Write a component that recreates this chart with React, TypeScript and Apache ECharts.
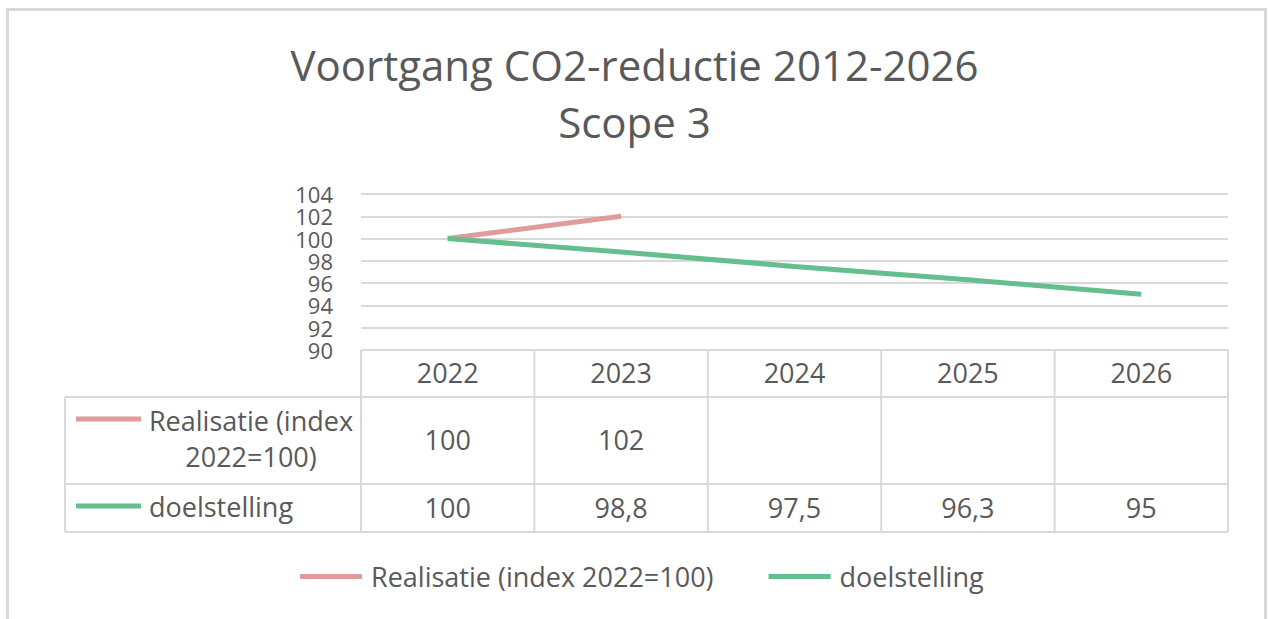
import React, { useEffect, useRef } from "react";
import * as echarts from "echarts";

const categories = ["2022", "2023", "2024", "2025", "2026"];
const realisatie: (number | null)[] = [100, 102, null, null, null];
const doelstelling: (number | null)[] = [100, 98.8, 97.5, 96.3, 95];
const seriesNames = ["Realisatie (index 2022=100)", "doelstelling"];
const rowHeaderLabels = ["Realisatie (index\n2022=100)", "doelstelling"];
const titleText = "Voortgang CO2-reductie 2012-2026\nScope 3";

const RED = "#E09B9B";
const GREEN = "#64BE8D";
const TEXT = "#595959";
const LINE = "#D9D9D9";
const FONT = "'Open Sans', sans-serif";

const fmt = (v: number | null) => (v === null ? "" : String(v).replace(".", ","));

export default function App() {
  const ref = useRef<HTMLDivElement>(null);
  useEffect(() => {
    if (!ref.current) return;
    const chart = echarts.init(ref.current, undefined, { renderer: "svg" });
    const option: any = {
      animation: false,
      backgroundColor: "#ffffff",
      textStyle: { fontFamily: FONT, color: TEXT },
      title: {
        text: titleText,
        left: "center",
        top: 36,
        padding: 0,
        textStyle: { fontFamily: FONT, fontSize: 42, fontWeight: "normal", color: TEXT, lineHeight: 57 },
      },
      legend: {
        left: 300,
        top: 563,
        padding: 0,
        itemWidth: 62,
        itemHeight: 5,
        itemGap: 55,
        icon: "rect",
        textStyle: { fontFamily: FONT, fontSize: 27, color: TEXT, padding: [0, 0, 0, 4] },
        data: seriesNames,
      },
      grid: { left: 361, right: 41, top: 194, bottom: 269 },
      xAxis: {
        type: "category",
        data: categories,
        boundaryGap: true,
        axisLabel: { show: false },
        axisLine: { show: false },
        axisTick: { show: false },
      },
      yAxis: {
        type: "value",
        min: 90,
        max: 104,
        interval: 2,
        axisLine: { show: false },
        axisTick: { show: false },
        axisLabel: {
          fontFamily: FONT,
          fontSize: 22,
          lineHeight: 22,
          color: TEXT,
          margin: 28,
          showMinLabel: true,
          showMaxLabel: true,
          hideOverlap: false,
        },
        splitLine: { lineStyle: { color: LINE, width: 2 } },
      },
      series: [
        {
          name: seriesNames[0],
          type: "line",
          data: realisatie,
          showSymbol: false,
          symbol: "none",
          color: RED,
          lineStyle: { color: RED, width: 5 },
        },
        {
          name: seriesNames[1],
          type: "line",
          data: doelstelling,
          showSymbol: false,
          symbol: "none",
          color: GREEN,
          lineStyle: { color: GREEN, width: 5 },
        },
      ],
    };
    chart.setOption(option);

    // data table built from the axis scale
    const cx = categories.map((c) => chart.convertToPixel({ xAxisIndex: 0 }, c) as number);
    const band = cx[1] - cx[0];
    const leftEdge = cx[0] - band / 2;
    const rightEdge = cx[cx.length - 1] + band / 2;
    const top = chart.convertToPixel({ yAxisIndex: 0 }, 90) as number;
    const row1 = 397;
    const row2 = 484;
    const bottom = 532;
    const headLeft = 65;
    const ls = { stroke: LINE, lineWidth: 2 };
    const els: any[] = [];
    // frame
    els.push({ type: "rect", shape: { x: 7.5, y: 9.5, width: 1258, height: 700 }, style: { fill: "none", stroke: LINE, lineWidth: 3 }, silent: true });
    // horizontal lines
    els.push({ type: "line", shape: { x1: leftEdge, y1: top, x2: rightEdge, y2: top }, style: ls });
    [row1, row2, bottom].forEach((y) =>
      els.push({ type: "line", shape: { x1: headLeft, y1: y, x2: rightEdge, y2: y }, style: ls })
    );
    // vertical lines
    els.push({ type: "line", shape: { x1: headLeft, y1: row1, x2: headLeft, y2: bottom }, style: ls });
    for (let i = 0; i <= categories.length; i++) {
      const x = leftEdge + i * band;
      els.push({ type: "line", shape: { x1: x, y1: top, x2: x, y2: bottom }, style: ls });
    }
    const txt = (x: number, y: number, s: string, align = "center") => ({
      type: "text",
      x,
      y,
      style: { text: s, fill: TEXT, font: `27px ${FONT}`, textAlign: align, textVerticalAlign: "middle", lineHeight: 36 },
    });
    categories.forEach((c, i) => els.push(txt(cx[i], (top + row1) / 2 - 1, c)));
    const rows = [realisatie, doelstelling];
    const rowY = [(row1 + row2) / 2, (row2 + bottom) / 2];
    const colors = [RED, GREEN];
    rows.forEach((r, ri) => {
      r.forEach((v, i) => els.push(txt(cx[i], rowY[ri] - 1, fmt(v))));
    });
    // row headers with legend keys
    els.push({ type: "rect", shape: { x: 76, y: 416.5, width: 65, height: 5 }, style: { fill: colors[0] } });
    els.push({ type: "rect", shape: { x: 76, y: 503.5, width: 65, height: 5 }, style: { fill: colors[1] } });
    els.push(txt(251, rowY[0] - 2, rowHeaderLabels[0]));
    els.push(txt(149, rowY[1] - 2, rowHeaderLabels[1], "left"));
    chart.setOption({ graphic: { elements: els } });

    return () => chart.dispose();
  }, []);
  return <div ref={ref} style={{ position: "absolute", left: 0, top: 0, width: 1269, height: 619 }} />;
}
